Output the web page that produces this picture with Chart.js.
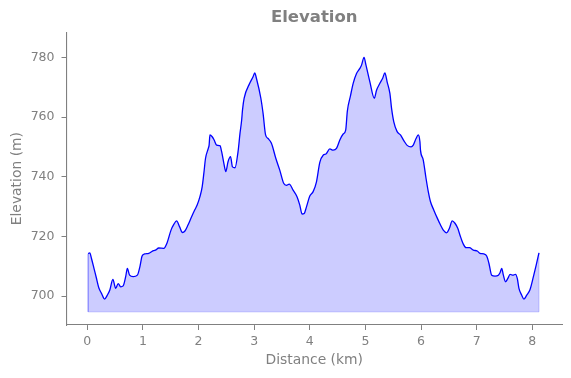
<!DOCTYPE html>
<html>
<head>
<meta charset="utf-8">
<script src="https://cdn.jsdelivr.net/npm/chart.js@4.4.1/dist/chart.umd.min.js"></script>
<style>
  html, body { margin: 0; padding: 0; background: #ffffff; }
  #wrap { width: 571px; height: 378px; }
</style>
</head>
<body>
<div id="wrap"><canvas id="c" width="571" height="378"></canvas></div>
<script>
// ---- data ----
const distanceKm = [
  0.015, 0.045, 0.075, 0.12, 0.16, 0.21, 0.255, 0.31, 0.36, 0.405,
  0.46, 0.51, 0.555, 0.6, 0.645, 0.69, 0.72, 0.76, 0.825, 0.9,
  0.945, 0.985, 1.03, 1.105, 1.165, 1.225, 1.285, 1.375, 1.435, 1.505,
  1.555, 1.605, 1.66, 1.71, 1.755, 1.81, 1.875, 1.935, 1.975, 2.025,
  2.065, 2.095, 2.125, 2.175, 2.19, 2.205, 2.245, 2.28, 2.325, 2.385,
  2.415, 2.455, 2.49, 2.53, 2.575, 2.61, 2.655, 2.71, 2.745, 2.775,
  2.79, 2.82, 2.92, 2.98, 3.01, 3.04, 3.12, 3.16, 3.205, 3.25,
  3.31, 3.39, 3.46, 3.53, 3.58, 3.63, 3.7, 3.77, 3.82, 3.86,
  3.9, 3.94, 4.0, 4.06, 4.12, 4.18, 4.24, 4.29, 4.36, 4.42,
  4.48, 4.54, 4.6, 4.645, 4.675, 4.73, 4.78, 4.84, 4.9, 4.93,
  4.975, 5.01, 5.08, 5.16, 5.2, 5.26, 5.31, 5.35, 5.39, 5.44,
  5.47, 5.51, 5.57, 5.63, 5.69, 5.75, 5.82, 5.86, 5.91, 5.95,
  5.98, 5.99, 6.04, 6.09, 6.13, 6.17, 6.23, 6.29, 6.35, 6.4,
  6.46, 6.51, 6.56, 6.61, 6.66, 6.7, 6.76, 6.81, 6.87, 6.94,
  7.01, 7.06, 7.13, 7.18, 7.22, 7.27, 7.33, 7.39, 7.42, 7.45,
  7.48, 7.52, 7.56, 7.6, 7.65, 7.7, 7.73, 7.76, 7.81, 7.85,
  7.9, 7.96, 8.02, 8.07, 8.12
];
const elevationM = [
  714.2, 714.5, 712.6, 709.3, 706.3, 702.6, 700.9, 699.0, 700.3, 702.0,
  705.6, 702.6, 704.2, 703.1, 703.4, 706.5, 709.3, 707.0, 706.5, 707.0,
  709.8, 713.4, 714.1, 714.3, 715.0, 715.4, 716.1, 716.0, 717.9, 722.1,
  724.0, 725.2, 723.2, 721.3, 721.8, 723.8, 726.6, 729.0, 730.5, 733.3,
  736.6, 741.1, 746.1, 749.5, 750.6, 754.0, 753.4, 752.3, 750.6, 750.4,
  748.4, 744.5, 741.7, 745.0, 746.7, 743.3, 743.0, 748.4, 754.5, 759.0,
  762.3, 766.3, 771.3, 773.5, 774.8, 773.0, 766.3, 761.2, 754.0, 752.8,
  751.2, 746.1, 742.2, 737.8, 737.1, 737.5, 735.5, 733.3, 730.5, 727.5,
  727.7, 729.9, 733.5, 735.0, 738.3, 744.8, 747.2, 747.6, 749.3, 748.9,
  749.5, 752.3, 754.3, 755.6, 762.0, 767.0, 771.3, 774.6, 776.3, 777.4,
  780.0, 777.4, 771.8, 766.3, 769.0, 771.3, 773.0, 774.8, 771.8, 767.9,
  762.9, 758.4, 755.1, 754.0, 752.1, 750.5, 750.0, 750.6, 752.8, 754.0,
  751.7, 748.9, 745.6, 739.4, 735.0, 731.6, 728.8, 726.2, 723.8, 722.1,
  721.2, 722.7, 725.2, 724.4, 722.7, 720.4, 717.4, 716.2, 716.2, 715.4,
  715.1, 714.3, 714.1, 713.4, 711.0, 707.0, 706.7, 707.0, 707.8, 709.3,
  707.0, 704.8, 705.9, 707.3, 707.0, 707.3, 705.9, 702.6, 700.3, 699.0,
  700.3, 702.2, 706.5, 710.4, 714.5
];
const fillBase = 694.7;
const xTicks = [0, 1, 2, 3, 4, 5, 6, 7, 8];
const yTicks = [700, 720, 740, 760, 780];

// ---- build ----
const grey = '#808080';
const points = distanceKm.map((d, i) => ({ x: d, y: elevationM[i] }));
const last = distanceKm.length - 1;
const edgePoints = [
  { x: distanceKm[0], y: elevationM[0] },
  { x: distanceKm[0], y: fillBase },
  { x: distanceKm[last], y: fillBase },
  { x: distanceKm[last], y: elevationM[last] }
];

new Chart(document.getElementById('c'), {
  type: 'line',
  data: {
    datasets: [
      {
        label: 'Elevation',
        data: points,
        borderColor: '#0000ff',
        borderWidth: 1.3,
        backgroundColor: 'rgba(0,0,255,0.2)',
        fill: { value: fillBase },
        pointRadius: 0,
        cubicInterpolationMode: 'monotone',
        order: 1
      },
      {
        label: 'edge',
        data: edgePoints,
        borderColor: 'rgba(0,0,255,0.2)',
        borderWidth: 1,
        fill: false,
        pointRadius: 0,
        tension: 0,
        order: 2
      }
    ]
  },
  options: {
    responsive: false,
    devicePixelRatio: 1,
    animation: false,
    layout: { padding: { left: 0, right: 9, top: 0, bottom: 0 } },
    plugins: {
      legend: { display: false },
      tooltip: { enabled: false },
      title: {
        display: true,
        text: 'Elevation',
        color: grey,
        fullSize: false,
        font: { family: 'DejaVu Sans', size: 16.5, weight: 'bold' },
        padding: { top: 8, bottom: 4.5 }
      }
    },
    scales: {
      x: {
        type: 'linear',
        min: -0.374,
        max: 8.534,
        afterBuildTicks: (s) => { s.ticks = xTicks.map(v => ({ value: v })); },
        afterFit: (s) => { s.height = 53; },
        grid: { display: true, drawOnChartArea: false, drawTicks: true, tickLength: 5, color: grey, lineWidth: 1 },
        border: { display: true, color: grey, width: 1.1 },
        ticks: { color: grey, font: { family: 'DejaVu Sans', size: 12.5 }, padding: 4, maxRotation: 0 },
        title: {
          display: true, text: 'Distance (km)', color: grey,
          font: { family: 'DejaVu Sans', size: 13.9 },
          padding: { top: 0, bottom: 9 }
        }
      },
      y: {
        type: 'linear',
        min: 690.3,
        max: 788.4,
        afterBuildTicks: (s) => { s.ticks = yTicks.map(v => ({ value: v })); },
        afterFit: (s) => { s.width = 66.5; },
        grid: { display: true, drawOnChartArea: false, drawTicks: true, tickLength: 5, color: grey, lineWidth: 1 },
        border: { display: true, color: grey, width: 1.1 },
        ticks: { color: grey, font: { family: 'DejaVu Sans', size: 12.5 }, padding: 7 },
        title: {
          display: true, text: 'Elevation (m)', color: grey,
          font: { family: 'DejaVu Sans', size: 13.9 },
          padding: { top: 9, bottom: 0 }
        }
      }
    }
  }
});
</script>
</body>
</html>
